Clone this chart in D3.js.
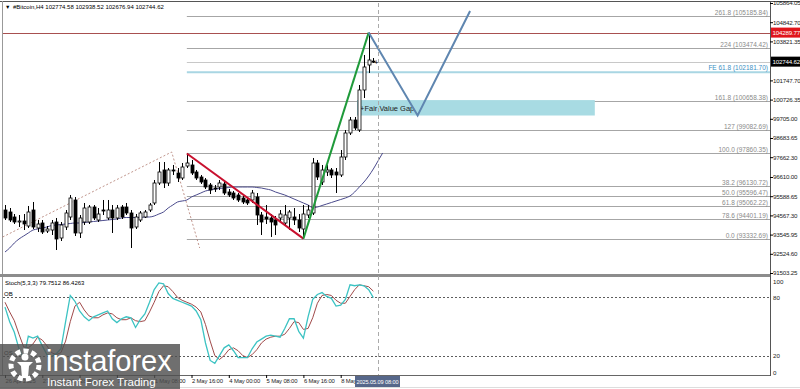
<!DOCTYPE html>
<html>
<head>
<meta charset="utf-8">
<script src="https://cdn.jsdelivr.net/npm/d3@7"></script>
<style>
  body { margin: 0; background: #fff; }
  text { font-family: "Liberation Sans", Arial, sans-serif; }
</style>
</head>
<body>
<div id="chart"></div>
<script>
// H4 candles, first one at 26 Apr 2025 00:00
const openP = [94854, 94748, 94482, 94216, 94269, 94003, 94854, 93897, 94163, 93737,
  93790, 94216, 93365, 93950, 94482, 95386, 93631, 94216, 94216, 95014,
  94322, 94854, 94429, 94854, 94429, 95014, 95014, 94695, 93950, 94322,
  94482, 94854, 95227, 96290, 96982, 96290, 96982, 96822, 96556, 97194,
  97248, 96875, 96609, 96450, 96184, 96024, 96077, 96237, 95812, 95758,
  95652, 95492, 95386, 95386, 95546, 94588, 94482, 94429, 94322, 94429,
  94163, 94429, 94482, 94322, 93843, 94588, 94695, 97354, 96343, 96875,
  96982, 96875, 96716, 97673, 98950, 99641, 99109, 101237, 102567, 102774.58];
const highP = [95120, 94960, 94641, 94588, 94641, 95067, 95280, 94322, 94322, 94003,
  94322, 94429, 94216, 94854, 95652, 95546, 94588, 95227, 95120, 95120,
  94960, 95386, 95386, 95120, 95120, 95120, 95227, 94854, 94641, 94801,
  94854, 95227, 96450, 97407, 97407, 97088, 97248, 97088, 97354, 97860.35,
  97514, 96982, 96716, 96556, 96290, 96184, 96450, 96343, 95971, 95865,
  95758, 95599, 95492, 95918, 95758, 94748, 95120, 94641, 94535, 94854,
  95120, 94854, 94960, 94641, 95120, 95120, 97620, 97514, 97248, 97248,
  97088, 97088, 98045, 99109, 99801, 99801, 101503, 103099, 104289.77, 102938.52];
const lowP = [94322, 94216, 94109, 93950, 93790, 93897, 93843, 93684, 93578, 93631,
  93524, 92726, 93205, 93790, 94322, 93471, 93365, 94056, 94109, 94322,
  94216, 94588, 94322, 93631, 94322, 94375, 94588, 92833, 93843, 94216,
  94429, 94748, 95120, 96184, 96024, 96131, 96716, 96343, 96450, 97088,
  96716, 96450, 96237, 95971, 95705, 95812, 95918, 95652, 95546, 95386,
  95280, 95173, 95120, 95227, 94056, 93524, 94109, 93420, 93524, 94216,
  94056, 93790, 94056, 93684, 93332.69, 94429, 94588, 96450, 96184, 96663,
  96556, 95758, 96609, 97514, 98843, 99109, 99003, 100811, 102141, 102676.94];
const closeP = [94429, 94322, 94216, 94269, 94109, 94748, 93950, 94109, 93684, 93843,
  94163, 93312, 94056, 94695, 95492, 93631, 94429, 94960, 95014, 94429,
  94641, 94801, 94854, 94429, 94960, 94482, 94695, 93897, 94482, 94695,
  94748, 95120, 96290, 96875, 96290, 96982, 96955, 96556, 97141, 97354,
  96822, 96556, 96343, 96077, 95918, 95971, 96290, 95758, 95652, 95492,
  95386, 95280, 95227, 95758, 94588, 94216, 94375, 94216, 94056, 94641,
  94588, 94748, 94322, 93897, 94641, 94854, 97354, 96609, 96982, 96982,
  96716, 96716, 97673, 98950, 99641, 99216, 101237, 102460, 102833, 102744.62];

// moving average (drawn shifted 2 bars ahead, so 82 points)
const maValues = [92620, 92833, 93099, 93312, 93471, 93631, 93790, 93843, 93897, 93950,
  94030, 94056, 94083, 94109, 94136, 94163, 94163, 94189, 94216, 94242,
  94269, 94295, 94322, 94349, 94375, 94429, 94455, 94455, 94455, 94455,
  94482, 94482, 94535, 94641, 94748, 94960, 95120, 95280, 95333, 95386,
  95546, 95652, 95758, 95865, 95918, 95971, 95998, 96024, 96051, 96077,
  96077, 96077, 96077, 96077, 96051, 96024, 95971, 95918, 95812, 95732,
  95652, 95546, 95439, 95333, 95227, 95120, 94987, 95014, 95094, 95173,
  95253, 95333, 95412, 95492, 95599, 95812, 96077, 96343, 96662, 97035,
  97460, 97886];

// Stochastic (5,3,3)
const stochK = [70, 55, 44, 27, 17, 40, 38, 40, 30, 21, 19, 22, 27, 55, 82, 76, 66, 60, 56, 60,
  62, 64, 66, 58, 54, 58, 60, 59, 49, 57, 63, 75, 88, 95, 94, 84, 79, 77, 75, 73,
  71, 66, 57, 33, 15, 12, 20, 28, 31, 25, 18, 18, 18, 27, 34, 37, 40, 41, 40, 39,
  48, 58, 58, 45, 38, 60, 78, 83, 85, 81, 79, 71, 72, 78, 93, 92, 93, 92, 88, 79.75];
const stochD = [75, 65, 56, 42, 29, 28, 32, 39, 36, 30, 23, 21, 23, 35, 55, 71, 75, 67, 61, 59,
  59, 62, 64, 63, 59, 57, 57, 59, 56, 55, 56, 65, 75, 86, 92, 91, 86, 80, 77, 75,
  73, 70, 65, 52, 35, 20, 16, 20, 26, 28, 25, 20, 18, 21, 26, 33, 37, 39, 40, 40,
  42, 48, 55, 54, 47, 48, 59, 74, 82, 83, 82, 77, 74, 74, 81, 88, 93, 92, 91, 86.43];

const priceTicks = [105864.05, 104842.70, 103821.35, 101747.70, 100726.35, 99705.00, 98683.65,
  97662.30, 96610.00, 95588.65, 94567.30, 93545.95, 92524.60, 91503.25];
const stochTicks = [100, 80, 20, 0];

const fibLevels = ["261.8", "224", "161.8", "127", "100.0", "38.2", "50.0", "61.8", "78.6", "0.0"];
const fibPrices = [105185.84, 103474.42, 100658.38, 99082.69, 97860.35, 96130.72, 95596.47, 95062.22, 94401.19, 93332.69];
const feLabel = "FE 61.8";
const fePrice = 102181.70;
const highLine = 104289.77;
const bidPrice = 102744.62;

const timeTicks = [new Date(2025, 3, 26, 0), new Date(2025, 3, 27, 8), new Date(2025, 3, 28, 16),
  new Date(2025, 3, 30, 0), new Date(2025, 4, 1, 8), new Date(2025, 4, 2, 16), new Date(2025, 4, 4, 0),
  new Date(2025, 4, 5, 8), new Date(2025, 4, 6, 16), new Date(2025, 4, 8, 0)];
const timeLabels = ["26 Apr 2025", "27 Apr 08:00", "28 Apr 16:00", "30 Apr 00:00", "1 May 08:00",
  "2 May 16:00", "4 May 00:00", "5 May 08:00", "6 May 16:00", "8 May 00:00"];

// drawn objects (time, price)
const channelTimes = [new Date(2025, 3, 25, 22), new Date(2025, 4, 1, 23), new Date(2025, 4, 2, 23)];
const channelPrices = [93418, 97939, 92833];
const projTimes = [new Date(2025, 4, 9, 0), new Date(2025, 4, 10, 18), new Date(2025, 4, 12, 15)];
const projPrices = [104289.77, 99880, 105439];
const fvgTimes = [new Date(2025, 4, 8, 14), new Date(2025, 4, 17, 2)];
const fvgPrices = [99880, 100700];
const cursorTime = new Date(2025, 4, 9, 8);

const W = 800, H = 389;
const plotL = 3, plotR = 770;
const mainTop = 3, mainBot = 273;
const stochTop = 278, stochBot = 375;

const startTime = new Date(2025, 3, 26, 0);
const candleTimes = openP.map((d, i) => d3.timeHour.offset(startTime, 4 * i));
const candles = candleTimes.map((t, i) => ({t, o: openP[i], h: highP[i], l: lowP[i], c: closeP[i]}));

const svg = d3.select("#chart").append("svg")
  .attr("width", W).attr("height", H)
  .style("display", "block");

const x = d3.scaleTime()
  .domain([startTime, cursorTime])
  .range([5, 378]);
const y = d3.scaleLinear()
  .domain([91503.25, 105864.05])
  .range([mainBot, mainTop]);
const ys = d3.scaleLinear()
  .domain([0, 100])
  .range([stochBot, stochTop]);

// frame
svg.append("rect").attr("x", 0).attr("y", 0).attr("width", W).attr("height", H).attr("fill", "#fff");
svg.append("line").attr("x1", 0).attr("x2", W).attr("y1", 1.5).attr("y2", 1.5).attr("stroke", "#555");
svg.append("line").attr("x1", 2.5).attr("x2", 2.5).attr("y1", 1).attr("y2", stochBot).attr("stroke", "#999");
svg.append("rect").attr("x", 0).attr("y", 274).attr("width", plotR).attr("height", 3).attr("fill", "#8c8c8c");
svg.append("line").attr("x1", 0).attr("x2", plotR).attr("y1", stochBot + 0.5).attr("y2", stochBot + 0.5).attr("stroke", "#666");
svg.append("line").attr("x1", 0).attr("x2", W).attr("y1", H - 1.5).attr("y2", H - 1.5).attr("stroke", "#ddd");

const main = svg.append("g");

// fib levels
const fibStart = candleTimes[39];
main.selectAll(".fib")
  .data(fibPrices)
  .enter().append("line")
  .attr("x1", x(fibStart)).attr("x2", plotR)
  .attr("y1", d => Math.round(y(d)) + 0.5).attr("y2", d => Math.round(y(d)) + 0.5)
  .attr("stroke", "#a6a6a6");
main.selectAll(".fibText")
  .data(fibPrices)
  .enter().append("text")
  .attr("x", plotR - 2).attr("y", d => Math.round(y(d)) - 1.5)
  .attr("text-anchor", "end")
  .attr("font-size", 6.5)
  .attr("fill", "#8a8a8a")
  .text((d, i) => `${fibLevels[i]} (${d.toFixed(2)})`);

// bid line, FE line, high line
main.append("line")
  .attr("x1", x(fibStart)).attr("x2", plotR)
  .attr("y1", Math.round(y(bidPrice)) + 0.5).attr("y2", Math.round(y(bidPrice)) + 0.5)
  .attr("stroke", "#c8c8c8");
main.append("line")
  .attr("x1", x(fibStart)).attr("x2", plotR)
  .attr("y1", y(fePrice)).attr("y2", y(fePrice))
  .attr("stroke", "#a9d6e3").attr("stroke-width", 2);
main.append("text")
  .attr("x", plotR - 2).attr("y", y(fePrice) - 2)
  .attr("text-anchor", "end").attr("font-size", 6.5)
  .attr("fill", "#3d8fc4")
  .text(`${feLabel} (${fePrice.toFixed(2)})`);
main.append("line")
  .attr("x1", plotL).attr("x2", plotR)
  .attr("y1", Math.round(y(highLine)) + 0.5).attr("y2", Math.round(y(highLine)) + 0.5)
  .attr("stroke", "#a85050");

// fair value gap
main.append("rect")
  .attr("x", x(fvgTimes[0]))
  .attr("y", y(fvgPrices[1]))
  .attr("width", x(fvgTimes[1]) - x(fvgTimes[0]))
  .attr("height", y(fvgPrices[0]) - y(fvgPrices[1]))
  .attr("fill", "#a8dbe3");
main.append("text")
  .attr("x", x(fvgTimes[0]) + 3)
  .attr("y", (y(fvgPrices[0]) + y(fvgPrices[1])) / 2 + 3)
  .attr("font-size", 7.5)
  .attr("fill", "#222")
  .text("+Fair Value Gap");

// cursor line
svg.append("line")
  .attr("x1", Math.round(x(cursorTime)) + 0.5).attr("x2", Math.round(x(cursorTime)) + 0.5)
  .attr("y1", mainTop).attr("y2", stochBot)
  .attr("stroke", "#aaa").attr("stroke-dasharray", "4,3");

// dotted channel
main.append("path")
  .datum(channelTimes.map((t, i) => [t, channelPrices[i]]))
  .attr("d", d3.line().x(d => x(d[0])).y(d => y(d[1])))
  .attr("fill", "none").attr("stroke", "#b07a6e")
  .attr("stroke-width", 0.8).attr("stroke-dasharray", "2,2");

// moving average
main.append("path")
  .datum(maValues)
  .attr("d", d3.line().x((d, i) => x(d3.timeHour.offset(startTime, 4 * i))).y(d => y(d)).curve(d3.curveMonotoneX))
  .attr("fill", "none").attr("stroke", "#4a4a8c").attr("stroke-width", 1);

// candles
const cg = main.selectAll(".candle").data(candles).enter().append("g");
cg.append("line")
  .attr("x1", d => Math.round(x(d.t)) + 0.5).attr("x2", d => Math.round(x(d.t)) + 0.5)
  .attr("y1", d => y(d.h)).attr("y2", d => y(d.l))
  .attr("stroke", "#000");
cg.append("rect")
  .attr("x", d => Math.round(x(d.t)) - 1)
  .attr("y", d => y(Math.max(d.o, d.c)))
  .attr("width", 3)
  .attr("height", d => Math.max(1, Math.abs(y(d.o) - y(d.c))))
  .attr("fill", d => d.c >= d.o ? "#fff" : "#000")
  .attr("stroke", "#000").attr("stroke-width", 0.8);

// swing lines
main.append("line")
  .attr("x1", x(candleTimes[39])).attr("y1", y(highP[39]))
  .attr("x2", x(candleTimes[64])).attr("y2", y(lowP[64]))
  .attr("stroke", "#c8102e").attr("stroke-width", 2);
main.append("line")
  .attr("x1", x(candleTimes[64])).attr("y1", y(lowP[64]))
  .attr("x2", x(candleTimes[78])).attr("y2", y(highP[78]))
  .attr("stroke", "#1f9a3a").attr("stroke-width", 2);

// projection
main.append("path")
  .datum(projTimes.map((t, i) => [t, projPrices[i]]))
  .attr("d", d3.line().x(d => x(d[0])).y(d => y(d[1])))
  .attr("fill", "none").attr("stroke", "#5f86b0").attr("stroke-width", 2);

// last price cross
main.append("text")
  .attr("x", x(candleTimes[79]) + 1).attr("y", y(bidPrice) + 3)
  .attr("font-size", 7).attr("fill", "#000").text("+");

// title
svg.append("text").attr("x", 5).attr("y", 9).attr("font-size", 5.5).text("\u25BC");
svg.append("text").attr("x", 13).attr("y", 9).attr("font-size", 6)
  .text("#Bitcoin,H4  102774.58 102938.52 102676.94 102744.62");

// price axis
svg.append("line").attr("x1", plotR + 0.5).attr("x2", plotR + 0.5).attr("y1", 1).attr("y2", stochBot + 1)
  .attr("stroke", "#555");
const yAxis = svg.append("g")
  .attr("transform", `translate(${plotR},0)`)
  .call(d3.axisRight(y).tickValues(priceTicks).tickFormat(d3.format(".2f")).tickSize(3).tickPadding(0));
yAxis.select(".domain").remove();
yAxis.selectAll("text").attr("font-size", 6.2).attr("letter-spacing", -0.2).attr("fill", "#222")
  .attr("font-family", "'Liberation Sans', Arial, sans-serif");

function priceTag(p, bg) {
  const g = svg.append("g").attr("transform", `translate(${plotR + 1},${y(p)})`);
  g.append("rect").attr("x", 0).attr("y", -5).attr("width", 29).attr("height", 10).attr("fill", bg);
  g.append("text").attr("x", 1.5).attr("y", 2.3).attr("font-size", 6.2).attr("letter-spacing", -0.2)
    .attr("fill", "#fff").text(p.toFixed(2));
}
priceTag(highLine, "#e0151b");
priceTag(bidPrice, "#000");

// stochastic panel
const st = svg.append("g");
st.selectAll(".lvl").data([80, 20]).enter().append("line")
  .attr("x1", plotL).attr("x2", plotR)
  .attr("y1", d => Math.round(ys(d)) + 0.5).attr("y2", d => Math.round(ys(d)) + 0.5)
  .attr("stroke", "#333").attr("stroke-dasharray", "2,2").attr("stroke-width", 0.8);
st.append("path")
  .datum(stochD)
  .attr("d", d3.line().x((d, i) => x(candleTimes[i])).y(d => ys(d)))
  .attr("fill", "none").attr("stroke", "#a04a4a").attr("stroke-width", 1);
st.append("path")
  .datum(stochK)
  .attr("d", d3.line().x((d, i) => x(candleTimes[i])).y(d => ys(d)))
  .attr("fill", "none").attr("stroke", "#3cc3c3").attr("stroke-width", 1.3);
st.append("text").attr("x", 5).attr("y", 285).attr("font-size", 6)
  .text("Stoch(5,3,3) 79.7512 86.4263");
st.append("text").attr("x", 4).attr("y", ys(80) - 1).attr("font-size", 6).text("OB");
st.append("text").attr("x", 4).attr("y", ys(20) - 1).attr("font-size", 6).text("OS");
const sAxis = svg.append("g")
  .attr("transform", `translate(${plotR},0)`)
  .call(d3.axisRight(ys).tickValues(stochTicks).tickSize(0).tickPadding(3));
sAxis.select(".domain").remove();
sAxis.selectAll("text").attr("font-size", 6.2).attr("fill", "#222")
  .attr("font-family", "'Liberation Sans', Arial, sans-serif");
sAxis.selectAll(".tick text").attr("dy", (d) => d === 100 ? "0.9em" : d === 0 ? "-0.1em" : "0.32em");

// time axis
const xAxis = svg.append("g")
  .attr("transform", `translate(0,${stochBot})`)
  .call(d3.axisBottom(x).tickValues(timeTicks).tickFormat((d, i) => timeLabels[i]).tickSize(3).tickPadding(1));
xAxis.select(".domain").remove();
xAxis.selectAll("text").attr("font-size", 5.9).attr("letter-spacing", -0.15).attr("fill", "#222")
  .attr("text-anchor", "start")
  .attr("font-family", "'Liberation Sans', Arial, sans-serif");

// cursor time tag
const ct = svg.append("g").attr("transform", `translate(${x(cursorTime) - 23},${stochBot + 1})`);
ct.append("rect").attr("width", 45).attr("height", 11).attr("fill", "#56678a");
ct.append("text").attr("x", 1.5).attr("y", 8).attr("font-size", 5.6).attr("letter-spacing", -0.1)
  .attr("fill", "#fff").text("2025.05.09 08:00");

// watermark logo
const logo = svg.append("g");
logo.append("rect").attr("x", 0).attr("y", 344).attr("width", 180).attr("height", 45)
  .attr("fill", "#4f4f4f").attr("opacity", 0.82);
logo.append("circle").attr("cx", 25).attr("cy", 365).attr("r", 14)
  .attr("fill", "none").attr("stroke", "#fff").attr("stroke-width", 5).attr("stroke-dasharray", "5,3");
logo.append("circle").attr("cx", 25).attr("cy", 357).attr("r", 3.5).attr("fill", "#fff");
logo.append("path").attr("d", "M17,362 L33,362 L29,366 L28,378 L22,378 L21,366 Z").attr("fill", "#fff");
logo.append("text").attr("x", 46).attr("y", 371).attr("font-size", 29).attr("fill", "#fff")
  .attr("font-family", "'Open Sans', 'Liberation Sans', sans-serif").text("instaforex");
logo.append("text").attr("x", 47).attr("y", 386).attr("font-size", 11.5).attr("fill", "#fff")
  .attr("font-family", "'Open Sans', 'Liberation Sans', sans-serif").text("Instant Forex Trading");
</script>
</body>
</html>
